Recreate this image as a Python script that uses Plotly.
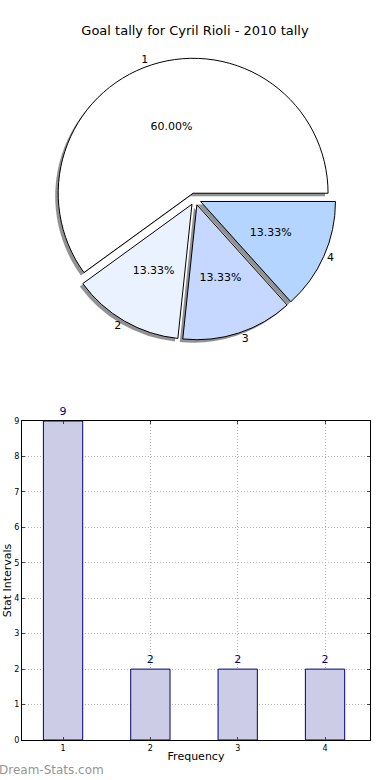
import plotly.graph_objects as go

# ---- data ----
pie_labels = ["1", "2", "3", "4"]
pie_values = [9, 2, 2, 2]
pie_colors = ["#ffffff", "#eaf1ff", "#c6d8ff", "#b3d5ff"]
pie_pull = [0.045, 0.045, 0.045, 0.045]
text_pull = [0.0565, 0.0565, 0.0565, 0.0565]

bar_x = [1, 2, 3, 4]
bar_y = [9, 2, 2, 2]
y_ticks = [0, 1, 2, 3, 4, 5, 6, 7, 8, 9]

title_text = "Goal tally for Cyril Rioli - 2010 tally"
x_title = "Frequency"
y_title = "Stat Intervals"
watermark = "Dream-Stats.com"

FONT = "DejaVu Sans"
H = 780
B = 40
plot_h = H - B

def py(pix):
    return (plot_h - pix) / plot_h

def px(pix):
    return (pix - 22) / 348

pie_top, pie_bot = 58, 340
pie_l, pie_r = 54, 336
sh = 3
ROT = 234  # first slice starts at 3 o'clock, counterclockwise
pie_dom = dict(x=[px(pie_l), px(pie_r)], y=[py(pie_bot), py(pie_top)])
cx, cy, tr = (pie_l + pie_r) / 2, (pie_top + pie_bot) / 2, 114
text_dom = dict(x=[px(cx - tr), px(cx + tr)], y=[py(cy + tr), py(cy - tr)])

fig = go.Figure()

# shadow pie
fig.add_trace(go.Pie(
    labels=pie_labels, values=pie_values, sort=False, direction="counterclockwise",
    rotation=ROT, pull=pie_pull,
    marker=dict(colors=["rgba(110,110,110,0.75)"] * 4, line=dict(width=0)),
    textinfo="none", hoverinfo="skip", showlegend=False,
    domain=dict(x=[px(pie_l - sh), px(pie_r - sh)], y=[py(pie_bot + sh), py(pie_top + sh)]),
))

# main pie
fig.add_trace(go.Pie(
    labels=pie_labels, values=pie_values, sort=False, direction="counterclockwise",
    rotation=ROT, pull=pie_pull,
    marker=dict(colors=pie_colors, line=dict(color="black", width=1)),
    textinfo="none",
    showlegend=False,
    domain=pie_dom,
))

# percentages (transparent smaller ring so text sits at ~0.6 radius)
fig.add_trace(go.Pie(
    labels=pie_labels, values=pie_values, sort=False, direction="counterclockwise",
    rotation=ROT, pull=text_pull, hole=0.3,
    marker=dict(colors=["rgba(0,0,0,0)"] * 4, line=dict(width=0)),
    texttemplate="%{percent:.2%}", textposition="inside", insidetextorientation="horizontal",
    textfont=dict(family=FONT, size=11, color="black"),
    hoverinfo="skip", showlegend=False,
    domain=text_dom,
))

# labels outside
fig.add_trace(go.Pie(
    labels=pie_labels, values=pie_values, sort=False, direction="counterclockwise",
    rotation=ROT, pull=pie_pull,
    marker=dict(colors=["rgba(0,0,0,0)"] * 4, line=dict(width=0)),
    textinfo="label", textposition="outside",
    textfont=dict(family=FONT, size=11, color="black"),
    hoverinfo="skip", showlegend=False,
    domain=pie_dom,
))

fig.add_trace(go.Bar(
    x=bar_x, y=bar_y, width=0.45,
    marker=dict(color="#ccccE6", line=dict(color="#000080", width=1)),
    text=[str(v) for v in bar_y], textposition="outside", cliponaxis=False,
    textfont=dict(family=FONT, size=11, color="#000080"),
    showlegend=False,
))

fig.update_layout(
    width=390, height=H,
    margin=dict(l=22, r=20, t=0, b=B, autoexpand=False),
    paper_bgcolor="white", plot_bgcolor="white",
    font=dict(family=FONT, color="black"),
    title=dict(text=title_text, x=0.5, xanchor="center", y=1 - 30 / H, yanchor="middle",
               font=dict(family=FONT, size=13, color="black")),
    xaxis=dict(domain=[0, 1], range=[0.53, 4.515], tickvals=bar_x, ticktext=[str(v) for v in bar_x],
               automargin=False,
               showgrid=True, gridcolor="#b4b4b4", griddash="1px,2px", gridwidth=1,
               showline=True, linecolor="black", mirror="ticks", ticks="inside", ticklen=3,
               tickfont=dict(family=FONT, size=8, color="black"),
               title=dict(text=x_title, font=dict(family=FONT, size=11), standoff=0),
               zeroline=False),
    yaxis=dict(domain=[0, py(421)], range=[0, 9], tickvals=y_ticks,
               automargin=False,
               showgrid=True, gridcolor="#b4b4b4", griddash="1px,2px", gridwidth=1,
               showline=True, linecolor="black", mirror="ticks", ticks="inside", ticklen=3,
               tickfont=dict(family=FONT, size=8, color="black"),
               title=dict(text=y_title, font=dict(family=FONT, size=11), standoff=0),
               zeroline=False),
    annotations=[dict(text=watermark, xref="paper", yref="paper", x=-25 / 348, y=-30 / plot_h,
                      xanchor="left", yanchor="middle", showarrow=False,
                      font=dict(family=FONT, size=12, color="#959595"))],
)

fig.write_html("out.html", config={"displayModeBar": False},
               post_script="document.body.style.margin='0';document.body.style.overflow='hidden';")
